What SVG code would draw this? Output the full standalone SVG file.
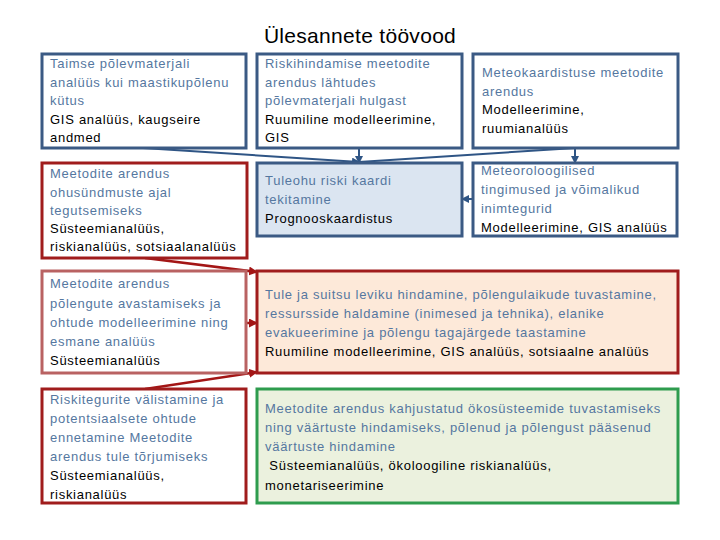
<svg xmlns="http://www.w3.org/2000/svg" width="720" height="540" viewBox="0 0 720 540">
<style>
text{font-family:"Liberation Sans",Arial,sans-serif;font-size:13px;letter-spacing:0.72px;}
.t{fill:#5577a0;}
.m{fill:#000;}
.title{font-size:21px;fill:#000;letter-spacing:0.3px;}
.bb{fill:#fff;stroke:#3b5a84;stroke-width:3;}
.be{fill:#dbe5f1;stroke:#3b5a84;stroke-width:3;}
.rd{fill:#fff;stroke:#a01c1c;stroke-width:3;}
.rl{fill:#fff;stroke:#b96262;stroke-width:3;}
.rh{fill:#fde9d9;stroke:#a01c1c;stroke-width:3;}
.gj{fill:#ebf1de;stroke:#2e9c4e;stroke-width:3;}
.cb{fill:none;stroke:#2f5585;stroke-width:2;}
.cr{fill:none;stroke:#a31515;stroke-width:2.5;}
</style>
<defs>
<marker id="ab" markerWidth="8" markerHeight="8" refX="7" refY="4" orient="auto" markerUnits="userSpaceOnUse"><path d="M0,0 L8,4 L0,8 z" fill="#2f5585"/></marker>
<marker id="ar" markerWidth="9" markerHeight="9" refX="8" refY="4.5" orient="auto" markerUnits="userSpaceOnUse"><path d="M0,0 L9,4.5 L0,9 z" fill="#a31515"/></marker>
</defs>
<text class="title" x="360" y="43" text-anchor="middle">Ülesannete töövood</text>
<g id="connectors">
<path class="cb" d="M143,148 L359,162" marker-end="url(#ab)"/>
<path class="cb" d="M575,148 L359,162"/>
<path class="cb" d="M359,148 L359,163" marker-end="url(#ab)"/>
<path class="cb" d="M575,148 L575,163" marker-end="url(#ab)"/>
<path class="cb" d="M473,199 L462,199" marker-end="url(#ab)"/>
<path class="cr" d="M145,258 L257,272" marker-end="url(#ar)"/>
<path class="cr" d="M246,323 L257,323" marker-end="url(#ar)"/>
<path class="cr" d="M145,389 L257,372" marker-end="url(#ar)"/>
</g>
<g id="nodeA">
<rect class="bb" x="42" y="54" width="204" height="94"/>
<text x="50" y="68" class="t">Taimse põlevmaterjali</text>
<text x="50" y="87" class="t">analüüs kui maastikupõlenu</text>
<text x="50" y="105" class="t">kütus</text>
<text x="50" y="124" class="m">GIS analüüs, kaugseire</text>
<text x="50" y="142" class="m">andmed</text>
</g>
<g id="nodeB">
<rect class="bb" x="257" y="54" width="205" height="94"/>
<text x="265" y="68" class="t">Riskihindamise meetodite</text>
<text x="265" y="87" class="t">arendus lähtudes</text>
<text x="265" y="105" class="t">põlevmaterjali hulgast</text>
<text x="265" y="124" class="m">Ruumiline modelleerimine,</text>
<text x="265" y="142" class="m">GIS</text>
</g>
<g id="nodeC">
<rect class="bb" x="473" y="54" width="205" height="94"/>
<text x="482" y="77" class="t">Meteokaardistuse meetodite</text>
<text x="482" y="96" class="t">arendus</text>
<text x="482" y="114" class="m">Modelleerimine,</text>
<text x="482" y="133" class="m">ruumianalüüs</text>
</g>
<g id="nodeD">
<rect class="rd" x="42" y="163" width="205" height="95"/>
<text x="50" y="178" class="t">Meetodite arendus</text>
<text x="50" y="197" class="t">ohusündmuste ajal</text>
<text x="50" y="215" class="t">tegutsemiseks</text>
<text x="50" y="233" class="m">Süsteemianalüüs,</text>
<text x="50" y="251" class="m">riskianalüüs, sotsiaalanalüüs</text>
</g>
<g id="nodeE">
<rect class="be" x="257" y="163" width="205" height="73"/>
<text x="265" y="185" class="t">Tuleohu riski kaardi</text>
<text x="265" y="204" class="t">tekitamine</text>
<text x="265" y="223" class="m">Prognooskaardistus</text>
</g>
<g id="nodeF">
<rect class="bb" x="473" y="163" width="204" height="73"/>
<text x="481" y="175" class="t">Meteoroloogilised</text>
<text x="481" y="194" class="t">tingimused ja võimalikud</text>
<text x="481" y="213" class="t">inimtegurid</text>
<text x="481" y="232" class="m">Modelleerimine, GIS analüüs</text>
</g>
<g id="nodeG">
<rect class="rl" x="42" y="271" width="204" height="102"/>
<text x="50" y="288" class="t">Meetodite arendus</text>
<text x="50" y="308" class="t">põlengute avastamiseks ja</text>
<text x="50" y="327" class="t">ohtude modelleerimine ning</text>
<text x="50" y="346" class="t">esmane analüüs</text>
<text x="50" y="365" class="m">Süsteemianalüüs</text>
</g>
<g id="nodeH">
<rect class="rh" x="257" y="271" width="421" height="102"/>
<text x="265" y="299" class="t">Tule ja suitsu leviku hindamine, põlengulaikude tuvastamine,</text>
<text x="265" y="318" class="t">ressursside haldamine (inimesed ja tehnika), elanike</text>
<text x="265" y="337" class="t">evakueerimine ja põlengu tagajärgede taastamine</text>
<text x="265" y="356" class="m">Ruumiline modelleerimine, GIS analüüs, sotsiaalne analüüs</text>
</g>
<g id="nodeI">
<rect class="rd" x="42" y="389" width="204" height="114"/>
<text x="50" y="404" class="t">Riskitegurite välistamine ja</text>
<text x="50" y="423" class="t">potentsiaalsete ohtude</text>
<text x="50" y="442" class="t">ennetamine Meetodite</text>
<text x="50" y="461" class="t">arendus tule tõrjumiseks</text>
<text x="50" y="480" class="m">Süsteemianalüüs,</text>
<text x="50" y="499" class="m">riskianalüüs</text>
</g>
<g id="nodeJ">
<rect class="gj" x="257" y="389" width="421" height="114"/>
<text x="265" y="413" class="t">Meetodite arendus kahjustatud ökosüsteemide tuvastamiseks</text>
<text x="265" y="432" class="t">ning väärtuste hindamiseks, põlenud ja põlengust pääsenud</text>
<text x="265" y="451" class="t">väärtuste hindamine</text>
<text x="265" y="470" class="m" xml:space="preserve"> Süsteemianalüüs, ökoloogiline riskianalüüs,</text>
<text x="265" y="490" class="m">monetariseerimine</text>
</g>
</svg>
